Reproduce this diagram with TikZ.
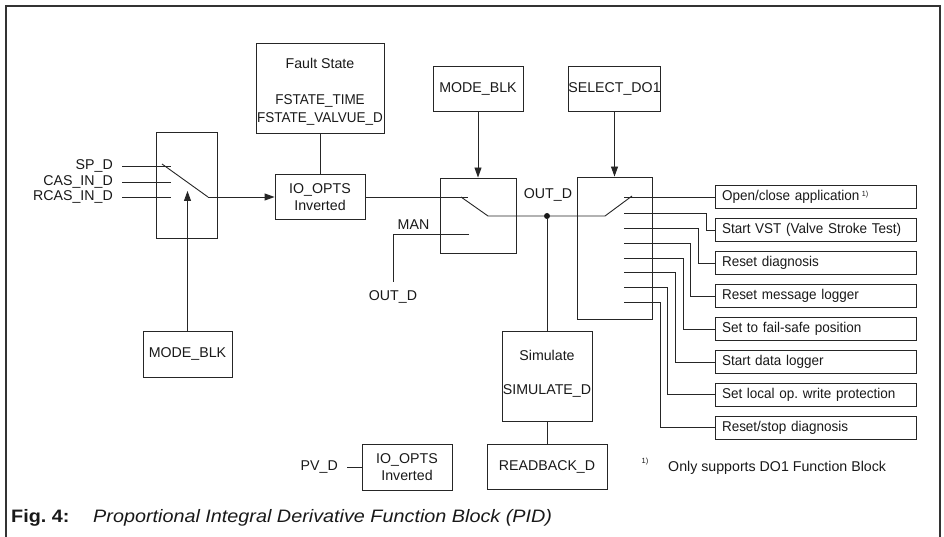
\documentclass[tikz,border=0pt]{standalone}
\usepackage{fontspec}
\setmainfont{Liberation Sans}
\newfontfamily\capfont{Liberation Sans}[FakeStretch=1.1]
\newfontfamily\narrowfont{Liberation Sans}[FakeStretch=0.95]
\usetikzlibrary{arrows.meta}
\frenchspacing
\begin{document}
\begin{tikzpicture}[x=1pt,y=-1pt,
  every node/.style={font=\fontsize{14.2}{17}\selectfont, inner sep=0pt, text=black!90},
  box/.style={draw=black!85, line width=0.9pt},
  wire/.style={draw=black!85, line width=0.9pt},
  arr/.style={wire, -{Triangle[length=10pt,width=7pt]}},
  outbox/.style={box, minimum width=201pt, minimum height=23pt, text width=187pt, align=left, font=\fontsize{14.2}{17}\narrowfont},
  dotnode/.style={circle, fill=black!90, inner sep=0pt, minimum size=6pt}]
\useasboundingbox (0,0) rectangle (944,537);
% frame
\draw[line width=1.3pt, black!80] (6,537) -- (6,6) -- (940,6) -- (940,537);

% Fault state
\node[box, minimum width=128pt, minimum height=90pt] (fs) at (320,88) {};
\node (fst) at (320,63) {Fault State};
\node[align=center, font=\fontsize{14.2}{17.5}\narrowfont] (fsv) at (320,110) {FSTATE\_TIME\\FSTATE\_VALVUE\_D};

% selector 1
\node[box, minimum width=61pt, minimum height=106pt] (sel) at (186.5,185) {};
\node[anchor=east] (sp) at (113,166) {SP\_D};
\node[anchor=east] (cas) at (113,182) {CAS\_IN\_D};
\node[anchor=east] (rcas) at (113,197) {RCAS\_IN\_D};
\coordinate (c1) at (171,166);
\coordinate (c2) at (171,182);
\coordinate (c3) at (171,197);
\draw[wire] ([xshift=9pt]sp.east) -- (c1);
\draw[wire] ([xshift=9pt]cas.east) -- (c2);
\draw[wire] ([xshift=9pt]rcas.east) -- (c3);
\coordinate (l1a) at (162,164);
\coordinate (l1b) at (208,197);

% IO_OPTS
\node[box, minimum width=90pt, minimum height=45pt, align=center] (io) at (320,197) {IO\_OPTS\\Inverted};
\draw[wire] (l1a) -- (l1b);
\draw[arr] (l1b) -- (io.west);
\draw[wire] (fs.south) -- (io.north);

% MODE_BLK bottom
\node[box, minimum width=89pt, minimum height=46pt] (mb1) at (187.5,354) {MODE\_BLK};
\coordinate (mb1tip) at (187.5,191);
\draw[arr] (mb1.north) -- (mb1tip);

% mode switch
\node[box, minimum width=76pt, minimum height=75pt] (msw) at (478,215.5) {};
\node[box, minimum width=90pt, minimum height=45pt] (mb2) at (478,88.5) {MODE\_BLK};
\draw[arr] (mb2.south) -- (msw.north);
\coordinate (c4) at (468,197);
\draw[wire] (io.east) -- (c4);
\node[dotnode] (dot) at (547,216) {};
\coordinate (l2a) at (461,197);
\coordinate (l2b) at (488,216);
\draw[wire] (l2a) -- (l2b) -- (dot);
\node (outd1) at (548,195) {OUT\_D};
\coordinate (man) at (469,234);
\node (manl) at (413.5,225) {MAN};
\node (outd2) at (393,297) {OUT\_D};
\coordinate (mand) at (393,282);
\draw[wire] (man) -- (393,234) -- (mand);

% DO switch
\node[box, minimum width=75pt, minimum height=142pt] (dsw) at (614.5,248) {};
\node[box, minimum width=90pt, minimum height=45pt] (seldo) at (614.5,88.5) {SELECT\_DO1};
\draw[arr] (seldo.south) -- (dsw.north);
\coordinate (l3a) at (605,216);
\coordinate (l3b) at (632,196);
\draw[wire] (dot) -- (l3a) -- (l3b);

% output boxes
\node[outbox] (o1) at (815.5,197) {Open/close application\,\raisebox{4pt}{\fontsize{7.5}{8}\selectfont 1)}};
\node[outbox] (o2) at (815.5,230) {Start VST (Valve Stroke Test)};
\node[outbox] (o3) at (815.5,263) {Reset diagnosis};
\node[outbox] (o4) at (815.5,296) {Reset message logger};
\node[outbox] (o5) at (815.5,329) {Set to fail-safe position};
\node[outbox] (o6) at (815.5,362) {Start data logger};
\node[outbox] (o7) at (815.5,394.5) {Set local op.\ write protection};
\node[outbox] (o8) at (815.5,427.5) {Reset/stop diagnosis};
\coordinate (s1) at (624,197);
\draw[wire] (s1) -- (o1.west);
\foreach \k/\sy/\vx in {2/213/706, 3/228/698, 4/243/690, 5/258/683, 6/272/675, 7/287/667, 8/302/660}{
  \coordinate (s\k) at (624,\sy);
  \draw[wire] (s\k) -- (\vx,\sy) |- (o\k.west);
}

% simulate
\node[box, minimum width=90pt, minimum height=90pt] (sim) at (547,376) {};
\node (simt) at (547,355) {Simulate};
\node (simd) at (547,391) {SIMULATE\_D};
\draw[wire] (dot) -- (sim.north);
\node[box, minimum width=120pt, minimum height=45pt] (rb) at (547,466.5) {READBACK\_D};
\draw[wire] (sim.south) -- (rb.north);
\node (fn) at (645,462) {\fontsize{7.5}{8}\selectfont 1)};
\node[anchor=west] (fnt) at (668,468) {Only supports DO1 Function Block};

% bottom IO_OPTS
\node[box, minimum width=90pt, minimum height=46pt, align=center] (io2) at (407,467) {IO\_OPTS\\Inverted};
\node[anchor=east] (pv) at (338,467) {PV\_D};
\draw[wire] ([xshift=9pt]pv.east) -- (io2.west);

% caption
\node[anchor=base west, font=\fontsize{18}{20}\capfont\bfseries] (capa) at (11,522) {Fig.\ 4:};
\node[anchor=base west, font=\fontsize{18}{20}\capfont\itshape] (capb) at (93,522) {Proportional Integral Derivative Function Block (PID)};
\end{tikzpicture}
\end{document}
